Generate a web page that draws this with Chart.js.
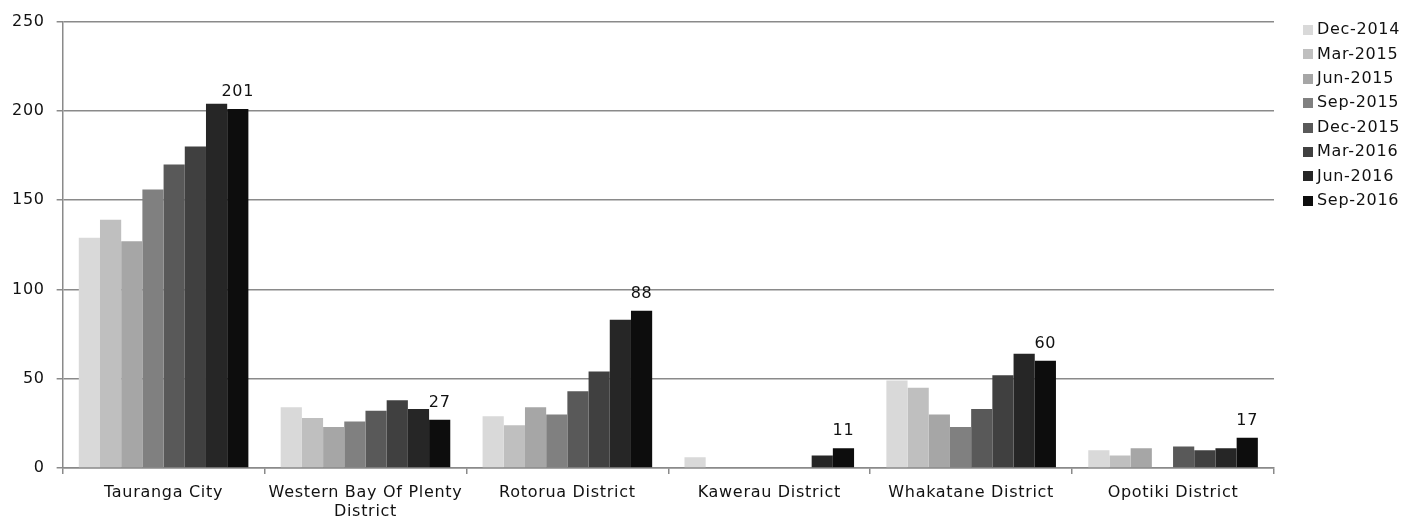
<!DOCTYPE html>
<html lang="en">
<head>
  <meta charset="UTF-8">
  <title>Bay of Plenty districts by quarter</title>
  <script src="https://cdn.jsdelivr.net/npm/chart.js"></script>
  <style>
    html, body { margin: 0; padding: 0; background: #fff; }
    #wrap { width: 1404px; height: 519px; position: relative; }
  </style>
</head>
<body>
  <div id="wrap"><canvas id="chart"></canvas></div>

  <script>
    const districts = [
      'Tauranga City',
      ['Western Bay Of Plenty', 'District'],
      'Rotorua District',
      'Kawerau District',
      'Whakatane District',
      'Opotiki District'
    ];

    const quarters = ['Dec-2014', 'Mar-2015', 'Jun-2015', 'Sep-2015', 'Dec-2015', 'Mar-2016', 'Jun-2016', 'Sep-2016'];
    const shades = ['#d9d9d9', '#bfbfbf', '#a6a6a6', '#808080', '#595959', '#404040', '#262626', '#0d0d0d'];

    const dec2014 = [129, 34, 29, 6, 49, 10];
    const mar2015 = [139, 28, 24, 0, 45, 7];
    const jun2015 = [127, 23, 34, 0, 30, 11];
    const sep2015 = [156, 26, 30, 0, 23, 0];
    const dec2015 = [170, 32, 43, 0, 33, 12];
    const mar2016 = [180, 38, 54, 0, 52, 10];
    const jun2016 = [204, 33, 83, 7, 64, 11];
    const sep2016 = [201, 27, 88, 11, 60, 17];

    const yTicks = [0, 50, 100, 150, 200, 250];

    const series = [dec2014, mar2015, jun2015, sep2015, dec2015, mar2016, jun2016, sep2016];
    const FONT = { family: '"DejaVu Sans", Verdana, sans-serif', size: 16 };
    const GRID = '#8a8a8a';
    const SPACING = '0.7px';

    // a little extra tracking so DejaVu sits closer to Verdana widths
    const tracking = {
      id: 'tracking',
      beforeLayout(chart) { chart.ctx.letterSpacing = SPACING; },
      beforeDraw(chart) { chart.ctx.letterSpacing = SPACING; }
    };

    // value labels above the latest quarter only
    const lastLabels = {
      id: 'lastLabels',
      afterDatasetsDraw(chart) {
        const ctx = chart.ctx;
        const idx = chart.data.datasets.length - 1;
        const meta = chart.getDatasetMeta(idx);
        ctx.save();
        ctx.font = FONT.size + 'px ' + FONT.family;
        ctx.fillStyle = '#111';
        ctx.textAlign = 'center';
        ctx.textBaseline = 'alphabetic';
        meta.data.forEach((bar, i) => {
          ctx.fillText(String(chart.data.datasets[idx].data[i]), bar.x, bar.y - 13);
        });
        ctx.restore();
      }
    };

    // legend column on the right
    const sideLegend = {
      id: 'sideLegend',
      afterDraw(chart) {
        const ctx = chart.ctx;
        ctx.save();
        ctx.font = FONT.size + 'px ' + FONT.family;
        ctx.textBaseline = 'middle';
        ctx.textAlign = 'left';
        chart.data.datasets.forEach((ds, i) => {
          const y = 30 + i * 24.4;
          ctx.fillStyle = ds.backgroundColor;
          ctx.fillRect(1303, Math.round(y - 5), 10, 10);
          ctx.fillStyle = '#111';
          ctx.fillText(ds.label, 1317, y);
        });
        ctx.restore();
      }
    };

    new Chart(document.getElementById('chart'), {
      type: 'bar',
      data: {
        labels: districts,
        datasets: quarters.map((q, i) => ({
          label: q,
          data: series[i],
          backgroundColor: shades[i],
          borderWidth: 0,
          categoryPercentage: 0.84,
          barPercentage: 1
        }))
      },
      options: {
        responsive: true,
        maintainAspectRatio: false,
        animation: false,
        layout: { padding: { left: 0, right: 130, top: 15, bottom: 0 } },
        plugins: {
          legend: { display: false },
          tooltip: { enabled: false }
        },
        scales: {
          x: {
            offset: true,
            afterFit(scale) { scale.height = 51; },
            grid: {
              offset: true,
              drawOnChartArea: false,
              drawTicks: true,
              tickLength: 6,
              color: GRID,
              lineWidth: 1.5
            },
            border: { color: GRID, width: 1.5 },
            ticks: { color: '#111', font: FONT, padding: 9, maxRotation: 0, autoSkip: false }
          },
          y: {
            min: 0,
            max: 250,
            afterBuildTicks(scale) {
              scale.ticks = yTicks.map(v => ({ value: v }));
            },
            grid: { color: GRID, tickLength: 6, lineWidth: 1.5 },
            border: { color: GRID, width: 1.5 },
            ticks: { color: '#111', font: FONT, padding: 12 }
          }
        }
      },
      plugins: [tracking, lastLabels, sideLegend]
    });
  </script>
</body>
</html>
